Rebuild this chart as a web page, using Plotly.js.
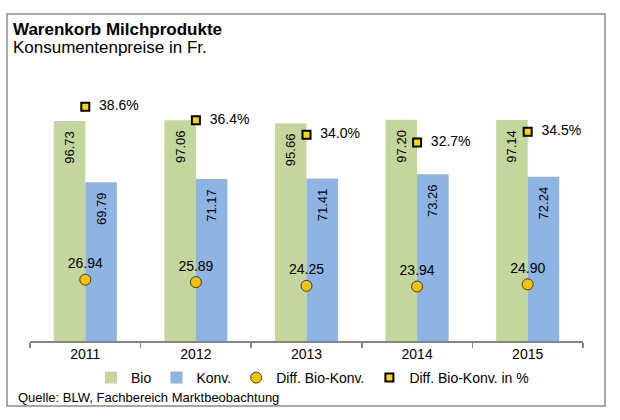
<!DOCTYPE html>
<html>
<head>
<meta charset="utf-8">
<script src="https://cdn.plot.ly/plotly-3.0.1.min.js"></script>
<style>html,body{margin:0;padding:0;background:#fff;}#chart{width:620px;height:420px;}</style>
</head>
<body>
<div id="chart"></div>
<script>
var years = ['2011', '2012', '2013', '2014', '2015'];
var bio = [96.73, 97.06, 95.66, 97.20, 97.14];
var konv = [69.79, 71.17, 71.41, 73.26, 72.24];
var diff = [26.94, 25.89, 24.25, 23.94, 24.90];
var diffPct = [38.6, 36.4, 34.0, 32.7, 34.5];

var FONT = '"Liberation Sans", Arial, sans-serif';
var NB = '\u00a0';

var traces = [
  {
    type: 'bar', name: 'Bio', x: years, y: bio,
    marker: {color: '#C3D69B'},
    texttemplate: '%{y:.2f}' + NB + NB, textposition: 'inside', insidetextanchor: 'end',
    textangle: -90, insidetextfont: {size: 13, color: '#000', family: FONT},
    hoverinfo: 'skip'
  },
  {
    type: 'bar', name: 'Konv.', x: years, y: konv,
    marker: {color: '#8DB4E2'},
    texttemplate: '%{y:.2f}' + NB + NB, textposition: 'inside', insidetextanchor: 'end',
    textangle: -90, insidetextfont: {size: 13, color: '#000', family: FONT},
    hoverinfo: 'skip'
  },
  {
    type: 'scatter', mode: 'markers+text', name: 'Diff. Bio-Konv.', x: years, y: diff,
    marker: {symbol: 'circle', size: 11, color: '#FFC000', line: {color: '#3a3a3a', width: 1}},
    texttemplate: '%{y:.2f}', textposition: 'top center',
    textfont: {size: 14, color: '#000', family: FONT},
    cliponaxis: false, hoverinfo: 'skip'
  },
  {
    type: 'scatter', mode: 'markers+text', name: 'Diff. Bio-Konv. in %', x: years, y: diffPct,
    yaxis: 'y2',
    marker: {symbol: 'square', size: 8, color: '#FFD700', line: {color: '#000', width: 2}},
    texttemplate: NB + NB + '%{y:.1f}%', textposition: 'middle right',
    textfont: {size: 14, color: '#000', family: FONT},
    cliponaxis: false, hoverinfo: 'skip'
  }
];

var layout = {
  width: 620, height: 420,
  margin: {l: 30, r: 37, t: 68, b: 79},
  paper_bgcolor: '#fff', plot_bgcolor: '#fff',
  font: {family: FONT, size: 14, color: '#000'},
  barmode: 'group', bargap: 0.43, bargroupgap: 0,
  showlegend: true,
  title: {
    text: '<b>Warenkorb Milchprodukte</b>',
    font: {size: 17, family: FONT, color: '#000'},
    x: 13 / 620, xanchor: 'left', xref: 'container',
    y: 1 - 23 / 420, yanchor: 'top', yref: 'container'
  },
  xaxis: {
    type: 'category', showline: true, linecolor: '#868686', linewidth: 1.5,
    ticks: 'outside', tickson: 'boundaries', ticklen: 5, tickcolor: '#868686', tickwidth: 1.5,
    tickfont: {size: 14, family: FONT, color: '#000'},
    showgrid: false, zeroline: false, fixedrange: true
  },
  yaxis: {range: [0, 120], visible: false, fixedrange: true},
  yaxis2: {range: [0, 45], visible: false, overlaying: 'y', side: 'right', fixedrange: true},
  legend: {
    orientation: 'h', x: (91 - 30) / 553, xanchor: 'left', y: -0.1355, yanchor: 'middle',
    font: {size: 14, family: FONT, color: '#000'},
    itemwidth: 30, traceorder: 'normal', bgcolor: 'rgba(0,0,0,0)'
  },
  shapes: [{
    type: 'rect', xref: 'paper', yref: 'paper',
    x0: (7 - 30) / 553, x1: (605 - 30) / 553,
    y0: (341 - 406) / 273, y1: (341 - 14) / 273,
    line: {color: '#8a8a8a', width: 1.5}, fillcolor: 'rgba(0,0,0,0)', layer: 'below'
  }],
  annotations: [
    {
      text: 'Konsumentenpreise in Fr.',
      xref: 'paper', yref: 'paper', x: (11 - 30) / 553, y: (341 - 47) / 273,
      xanchor: 'left', yanchor: 'middle', showarrow: false,
      font: {size: 17, family: FONT, color: '#000'}
    },
    {
      text: 'Quelle: BLW, Fachbereich Marktbeobachtung',
      xref: 'paper', yref: 'paper', x: (16 - 30) / 553, y: (341 - 397) / 273,
      xanchor: 'left', yanchor: 'middle', showarrow: false,
      font: {size: 13, family: FONT, color: '#000'}
    }
  ]
};

Plotly.newPlot('chart', traces, layout, {displayModeBar: false, staticPlot: true});
</script>
</body>
</html>
